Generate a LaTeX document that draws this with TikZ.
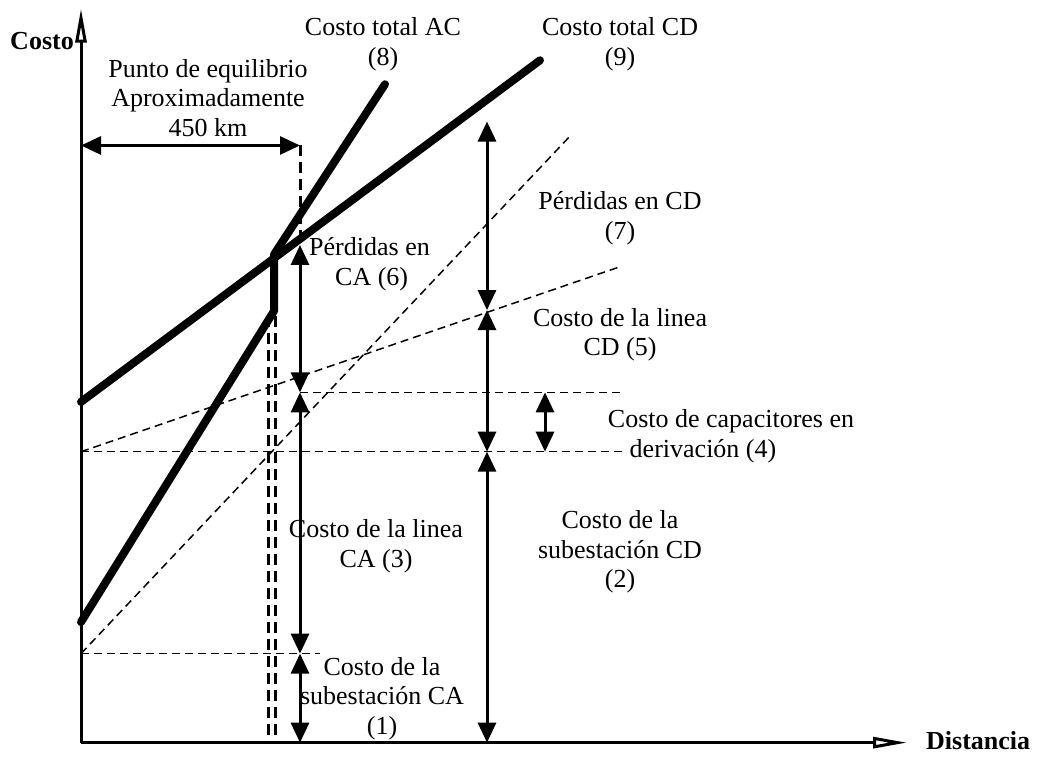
\documentclass[tikz,border=0pt]{standalone}
\usepackage{fontspec}
\setmainfont{Liberation Serif}
\usetikzlibrary{arrows.meta}
\begin{document}
\begin{tikzpicture}[x=1pt,y=-0.957pt,
  lbl/.style={font=\fontsize{26}{29.5}\selectfont, align=center, inner sep=0pt},
  blbl/.style={font=\fontsize{26}{29}\selectfont\bfseries, inner sep=0pt},
  axis/.style={line width=3pt, -{Triangle[open,length=34pt,width=11pt,line width=3pt]}},
  thick line/.style={line width=8pt, line cap=round, line join=round},
  dim/.style={line width=3pt, {Triangle[length=20pt,width=18pt]}-{Triangle[length=20pt,width=18pt]}},
  thin dash/.style={line width=1.5pt, dash pattern=on 8pt off 5pt},
  bold dash/.style={line width=3pt, dash pattern=on 11pt off 6pt}
]
\useasboundingbox (0,0) rectangle (1040,791);

% coordinates
\coordinate (O) at (81,776);
\coordinate (Ytop) at (81,9);
\coordinate (Xend) at (907,776);

% axes
\draw[axis] (O) -- (Ytop);
\draw[axis] (O) -- (Xend);
\node[blbl, anchor=east] (costo) at (74,43) {Costo};
\node[blbl, anchor=west] (dist) at (926,774) {Distancia};

% thin dashed lines
\coordinate (h1a) at (81,683); \coordinate (h1b) at (320,683);
\coordinate (h2a) at (81,472); \coordinate (h2b) at (622,472);
\coordinate (h3a) at (300,410); \coordinate (h3b) at (622,410);
\coordinate (s1b) at (622,278);
\coordinate (s2b) at (572,140);
\draw[thin dash] (h1a) -- (h1b);
\draw[thin dash] (h2a) -- (h2b);
\draw[thin dash] (h3a) -- (h3b);
\draw[thin dash] (h2a) -- (s1b);
\draw[thin dash] (h1a) -- (s2b);

% bold dashed verticals
\coordinate (d1t) at (268,330); \coordinate (d1b) at (268,776);
\coordinate (d2t) at (275,330); \coordinate (d2b) at (275,776);
\draw[bold dash] (d1t) -- (d1b);
\draw[bold dash] (d2t) -- (d2b);
\coordinate (d3t) at (300,152); \coordinate (d3b) at (300,256);
\draw[bold dash] (d3t) -- (d3b);

% thick cost lines
\coordinate (cd0) at (81,420); \coordinate (cd1) at (540,63);
\coordinate (ac0) at (81,650); \coordinate (ac1) at (274,325);
\coordinate (ac2) at (274,266); \coordinate (ac3) at (385,88);
\draw[thick line] (cd0) -- (cd1);
\draw[thick line] (ac0) -- (ac1) -- (ac2) -- (ac3);

% dimension arrows
\coordinate (p0) at (81,152);
\draw[dim] (p0) -- (d3t);

\coordinate (a1) at (300,776); \coordinate (a2) at (300,683);
\coordinate (a3) at (300,410); \coordinate (a4) at (300,256);
\draw[dim] (a2) -- (a1);
\draw[dim] (a3) -- (a2);
\draw[dim] (a4) -- (a3);

\coordinate (b1) at (487,776); \coordinate (b2) at (487,472);
\coordinate (b3) at (487,324); \coordinate (b4) at (487,127);
\draw[dim] (b2) -- (b1);
\draw[dim] (b3) -- (b2);
\draw[dim] (b4) -- (b3);

\coordinate (c1) at (545,472); \coordinate (c2) at (545,410);
\draw[dim] (c2) -- (c1);

% labels
\node[lbl] (peq) at (208,102) {Punto de equilibrio\\Aproximadamente\\450 km};
\node[lbl] (tac) at (383,46) {Costo total AC\\(8)};
\node[lbl] (tcd) at (620,46) {Costo total CD\\(9)};
\node[lbl] (pcd) at (620,228) {Pérdidas en CD\\(7)};
\node[lbl] (lcd) at (620,350) {Costo de la linea\\CD (5)};
\node[lbl] (cap1) at (731,440) {Costo de capacitores en};
\node[lbl] (cap2) at (703,472) {derivación (4)};
\node[lbl] (scd) at (620,577) {Costo de la\\subestación CD\\(2)};
\node[lbl, align=left, anchor=north west] (pca) at (309,248) {Pérdidas en\\\ \ \ \ CA (6)};
\node[lbl] (lca) at (376,571) {Costo de la linea\\CA (3)};
\node[lbl] (sca) at (382,730) {Costo de la\\subestación CA\\(1)};
\end{tikzpicture}
\end{document}
